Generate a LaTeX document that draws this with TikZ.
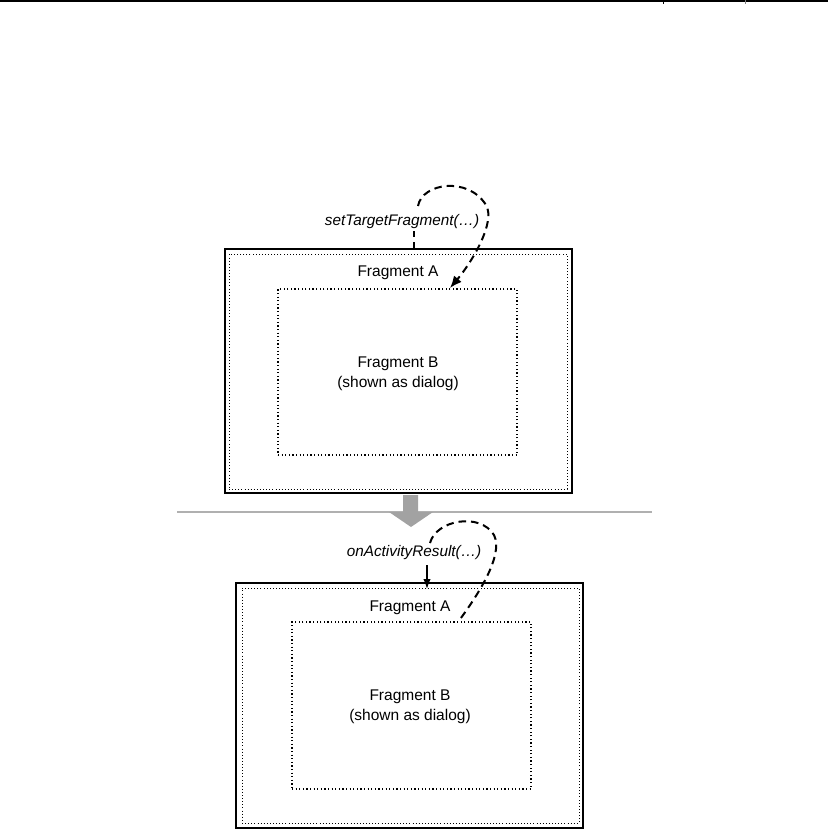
\documentclass[tikz,border=0pt]{standalone}
\usepackage{fontspec}
\setmainfont{Liberation Sans}
\usetikzlibrary{arrows.meta}
\definecolor{arrowgray}{HTML}{A2A2A2}
\definecolor{linegray}{HTML}{B0B0B0}
\tikzset{
  outerbox/.style={draw=black, line width=1.3pt, inner sep=0pt},
  dotbox/.style={draw=black, line width=0.9pt, dash pattern=on 0.9pt off 2.2pt, inner sep=0pt},
  dialogbox/.style={draw=black, line width=1.2pt, dash pattern=on 1.2pt off 2.4pt, inner sep=0pt},
  lbl/.style={font=\fontsize{15.5}{20}\selectfont, inner sep=0pt, align=center},
  call/.style={font=\fontsize{15.3}{17}\selectfont\itshape, inner sep=0pt},
  flow/.style={line width=2pt, dash pattern=on 7.5pt off 5pt},
  flowtip/.style={-{Latex[length=12pt,width=10pt]}},
  solidtip/.style={line width=1.5pt, -{Latex[length=10pt,width=7.5pt]}},
}
\begin{document}
\begin{tikzpicture}[x=1pt,y=-1pt]
\useasboundingbox (0,0) rectangle (828,839);
% top rule
\draw[line width=1.6pt] (0,1) -- (828,1);
\draw[line width=0.8pt] (663,0) -- (663,4);
\draw[line width=0.8pt, gray] (745,0) -- (745,4);

% ---- top diagram ----
\node[outerbox, minimum width=347pt, minimum height=244pt] (A1) at (398.5,371) {};
\node[dotbox, minimum width=338pt, minimum height=235pt] (A1in) at (398,371.5) {};
\node[dialogbox, minimum width=239pt, minimum height=166pt] (B1) at (397.5,372) {};
\node[lbl] (A1t) at (398,273) {Fragment A};
\node[lbl] (B1t) at (398,374) {Fragment B\\(shown as dialog)};
\node[call] (set) at (402,222) {setTargetFragment(…)};
\coordinate (s1) at (414,249);
\coordinate (s2) at (414,231);
\coordinate (s3) at (418,206);
\coordinate (s4) at (486,205);
\coordinate (s5) at (450,288);
\draw[flow] (s1) -- (s2);
\draw[flow, flowtip] (s3) .. controls (422,183) and (468,176) .. (s4)
                          .. controls (496,222) and (472,262) .. (s5);

% ---- transition ----
\draw[linegray, line width=2pt] (177,512) -- (652,512);
\fill[arrowgray] (403,495) -- (418,495) -- (418,512) -- (433,512) -- (411,527)
                 -- (389,512) -- (403,512) -- cycle;

% ---- bottom diagram ----
\node[outerbox, minimum width=347pt, minimum height=245pt] (A2) at (409.5,705.5) {};
\node[dotbox, minimum width=337pt, minimum height=235pt] (A2in) at (410.5,705.5) {};
\node[dialogbox, minimum width=239pt, minimum height=167pt] (B2) at (411.5,705.5) {};
\node[lbl] (A2t) at (410,608) {Fragment A};
\node[lbl] (B2t) at (410,707) {Fragment B\\(shown as dialog)};
\node[call] (res) at (414,553) {onActivityResult(…)};
\coordinate (r1) at (430,543);
\coordinate (r2) at (494,535);
\coordinate (r3) at (458,622);
\coordinate (r4) at (427,565);
\coordinate (r5) at (427,589);
\draw[flow] (r1) .. controls (436,520) and (480,512) .. (r2)
                 .. controls (504,555) and (478,595) .. (r3);
\draw[solidtip] (r4) -- (r5);
\end{tikzpicture}
\end{document}
